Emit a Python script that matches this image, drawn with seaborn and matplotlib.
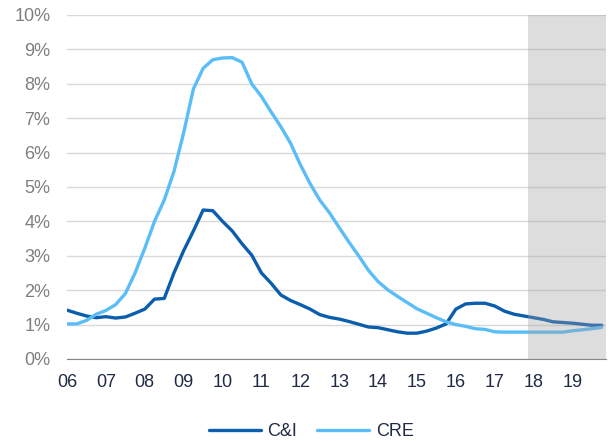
import numpy as np
import pandas as pd
import matplotlib.pyplot as plt
import seaborn as sns

# quarterly series, 2006Q1 .. 2019Q4 (values in %)
years = np.arange(2006, 2020)
tick_labels = ["06", "07", "08", "09", "10", "11", "12", "13", "14", "15", "16", "17", "18", "19"]

ci = [1.42, 1.33, 1.25, 1.20, 1.23, 1.19, 1.22, 1.33, 1.45, 1.74, 1.76, 2.50, 3.15, 3.72,
      4.33, 4.31, 4.00, 3.72, 3.35, 3.02, 2.50, 2.20, 1.86, 1.70, 1.58, 1.45, 1.29, 1.21,
      1.16, 1.09, 1.01, 0.93, 0.91, 0.85, 0.79, 0.75, 0.75, 0.81, 0.90, 1.02, 1.45, 1.60,
      1.62, 1.62, 1.54, 1.39, 1.30, 1.25, 1.20, 1.15, 1.08, 1.06, 1.04, 1.01, 0.98, 0.98]
cre = [1.02, 1.02, 1.12, 1.30, 1.41, 1.58, 1.90, 2.50, 3.22, 4.00, 4.62, 5.45, 6.58, 7.85,
       8.45, 8.70, 8.75, 8.76, 8.63, 8.00, 7.63, 7.18, 6.75, 6.27, 5.65, 5.10, 4.62, 4.25,
       3.82, 3.40, 3.00, 2.58, 2.25, 2.01, 1.82, 1.64, 1.46, 1.33, 1.20, 1.08, 1.00, 0.95,
       0.88, 0.86, 0.79, 0.78, 0.78, 0.78, 0.78, 0.78, 0.78, 0.78, 0.82, 0.85, 0.88, 0.92]
dates = 2006 + np.arange(len(ci)) / 4
forecast_start = 2017.85

df = pd.concat([
    pd.DataFrame({"date": dates, "value": ci, "series": "C&I"}),
    pd.DataFrame({"date": dates, "value": cre, "series": "CRE"}),
])

sns.set_style("white")
plt.rcParams["font.family"] = ["Liberation Sans", "DejaVu Sans"]

fig = plt.figure(figsize=(6.11, 4.41), dpi=100)
ax = fig.add_axes([0.1097, 0.186, 0.882, 0.78])

sns.lineplot(data=df, x="date", y="value", hue="series",
             palette={"C&I": "#0B5DAE", "CRE": "#5BBDF8"}, linewidth=2.4, ax=ax)

# shaded forecast period
ax.axvspan(forecast_start, 2019.86, color="#A0A0A0", alpha=0.35, lw=0, zorder=5)

ax.set_xlim(2006, 2019.86)
ax.set_ylim(0, 10)
ax.set_yticks(range(0, 11))
ax.set_yticklabels([f"{i}%" for i in range(0, 11)])
ax.set_xticks(years)
ax.set_xticklabels(tick_labels)
ax.set_xlabel("")
ax.set_ylabel("")

ax.grid(axis="y", color="#D9D9D9", linewidth=1)
ax.set_axisbelow(True)
for s in ["left", "right", "top"]:
    ax.spines[s].set_visible(False)
ax.spines["bottom"].set_color("#868686")
ax.tick_params(axis="x", colors="#868686", direction="out", length=6, width=1,
               labelsize=13, labelcolor="#1F2A44", pad=5)
ax.tick_params(axis="y", length=0, labelsize=13, labelcolor="#7F7F7F", pad=12)

ax.legend(loc="upper center", bbox_to_anchor=(0.453, -0.14), ncol=2, frameon=False,
          fontsize=13, handlelength=2.9, handletextpad=0.35, columnspacing=1.1,
          labelcolor="#1F2A44")

fig.savefig("out.png", dpi=100)
